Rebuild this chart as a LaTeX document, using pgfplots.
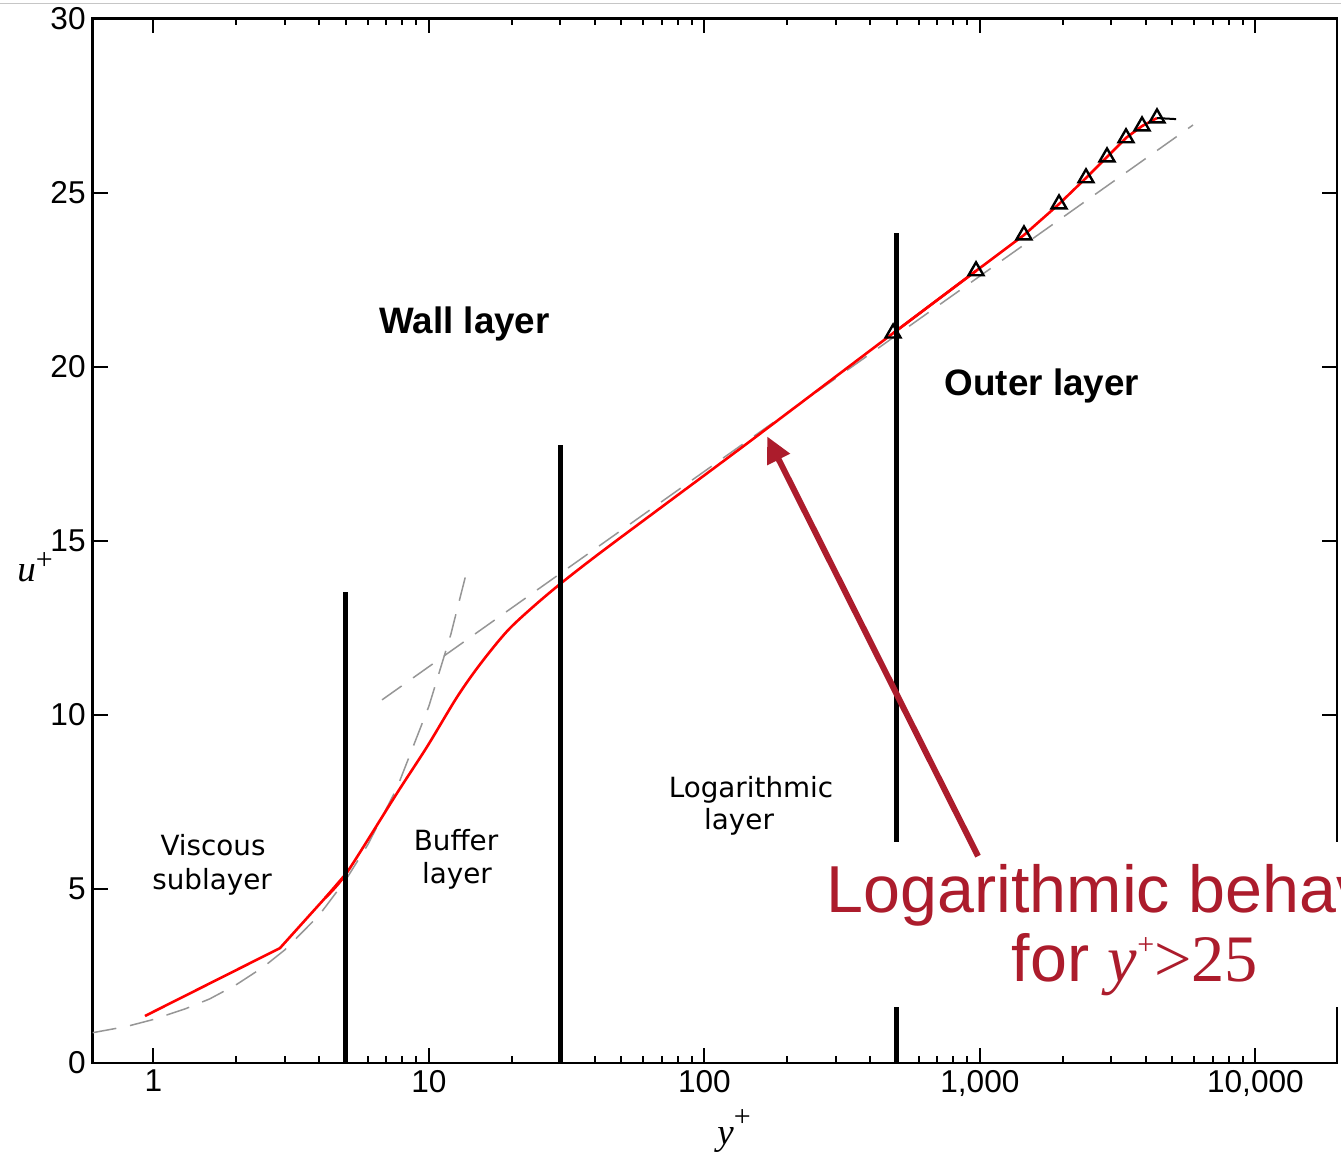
\documentclass[border=0pt]{standalone}
\usepackage{fontspec}
\usepackage{pgfplots}
\pgfplotsset{compat=1.18}
\usetikzlibrary{arrows.meta}
\setmainfont{Liberation Sans}
\newfontfamily\dejavu{DejaVu Sans}
\newfontfamily\serif{Liberation Serif}
\definecolor{annot}{RGB}{172,28,44}
\definecolor{dashgray}{RGB}{150,150,150}
\begin{document}
\begin{tikzpicture}
\begin{axis}[
  xmode=log, scale only axis, width=622.15pt, height=522.25pt,
  xmin=0.602, xmax=19780, ymin=0, ymax=30,
  xtick={1,10,100,1000,10000}, xticklabels={1,10,100,{1,000},{10,000}},
  ytick={0,5,...,30},
  tick align=inside,
  major tick length=7.5pt, minor tick length=3.5pt,
  tick style={line width=1pt, black},
  axis line style={line width=1.4pt},
  ticklabel style={font=\fontsize{15.8}{18}\selectfont},
  /pgf/number format/assume math mode=true,
  clip=false,
]
% viscous sublayer reference (dashed)
\addplot[dashgray, line width=0.75pt, dash pattern=on 12pt off 7pt] coordinates {
 (0.602,0.87)(0.8,1.05)(1,1.25)(1.3,1.55)(1.6,1.84)(2,2.25)(2.5,2.75)(3,3.25)
 (4,4.25)(5,5.27)(6,6.27)(7.66,7.9)(10,10.25)(12,12.3)(13.9,14.3)};
% log law reference (dashed)
\addplot[dashgray, line width=0.75pt, dash pattern=on 12pt off 7pt] coordinates {
 (6.76,10.43)(5935,26.94)};
% velocity profile
\addplot[red, line width=1.3pt] coordinates {
 (0.932,1.35)(2.88,3.30)(4.2,4.74)(5.02,5.45)};
\addplot[red, line width=1.3pt, smooth, tension=0.5] coordinates {
 (4.2,4.74)(5.02,5.45)(7.66,7.75)(9.84,9.08)(12.65,10.51)
 (15.33,11.45)(19.21,12.4)(23.87,13.1)(30.4,13.8)(41.8,14.65)(70,15.97)
 (150,17.92)(484,20.96)(968,22.75)};
\addplot[red, line width=1.3pt] coordinates {
 (484,20.96)(968,22.75)(1445,23.78)(1937,24.67)(2427,25.42)
 (2893,26.02)(3391,26.57)(3877,26.91)(4393,27.14)};
\addplot[black, line width=1pt] coordinates {(4393,27.14)(5152,27.11)};
\addplot[black, only marks, mark=triangle, mark size=4.3pt, mark options={line width=1.2pt, fill=none}] coordinates {
 (484,20.96)(968,22.75)(1445,23.78)(1937,24.67)(2427,25.42)
 (2893,26.02)(3391,26.57)(3877,26.91)(4393,27.14)};
% region boundaries
\addplot[black, line width=2.5pt] coordinates {(5,0)(5,13.53)};
\addplot[black, line width=2.5pt] coordinates {(30,0)(30,17.75)};
\addplot[black, line width=2.5pt] coordinates {(500,0)(500,23.84)};
% region labels
\node[anchor=base, inner sep=0, font=\dejavu\fontsize{13.9}{16}\selectfont] at (axis cs:1.646,5.945) {Viscous};
\node[anchor=base, inner sep=0, font=\dejavu\fontsize{13.9}{16}\selectfont] at (axis cs:1.632,4.997) {sublayer};
\node[anchor=base, inner sep=0, font=\dejavu\fontsize{13.9}{16}\selectfont] at (axis cs:12.54,6.117) {Buffer};
\node[anchor=base, inner sep=0, font=\dejavu\fontsize{13.9}{16}\selectfont] at (axis cs:12.65,5.169) {layer};
\node[anchor=base, inner sep=0, font=\dejavu\fontsize{13.9}{16}\selectfont] at (axis cs:147.6,7.639) {Logarithmic};
\node[anchor=base, inner sep=0, font=\dejavu\fontsize{13.9}{16}\selectfont] at (axis cs:133.6,6.692) {layer};
\node[anchor=base, inner sep=0, font=\bfseries\fontsize{18.4}{20}\selectfont] at (axis cs:13.47,20.965) {Wall layer};
\node[anchor=base, inner sep=0, font=\bfseries\fontsize{18.4}{20}\selectfont] at (axis cs:1680,19.18) {Outer layer};
% axis labels
\node[anchor=base west, inner sep=0] at (axis description cs:-0.0608,0.4605)
  {\serif\fontsize{18.5}{20}\selectfont\itshape u\upshape\raisebox{6.1pt}{\fontsize{15}{15}\selectfont +}};
\node[anchor=base west, inner sep=0] at (axis description cs:0.5017,-0.0785)
  {\serif\fontsize{18.5}{20}\selectfont\itshape y\upshape\raisebox{9pt}{\fontsize{15}{15}\selectfont +}};
% saved coordinates
\coordinate (SW) at (rel axis cs:0,0);
\coordinate (TL) at (rel axis cs:0,1);
\coordinate (boxBL) at (axis cs:252,1.608);
\coordinate (boxTR) at (axis cs:30000,6.347);
\coordinate (L1) at (axis cs:3656,4.308);
\coordinate (L2) at (axis cs:3656,2.326);
\coordinate (arrTail) at (axis cs:984.5,5.94);
\coordinate (arrTip) at (axis cs:168.8,18.0);
\end{axis}
\fill[white] (boxBL) rectangle (boxTR);
\draw[annot, line width=3pt, -{Triangle[length=13pt,width=12pt]}] (arrTail) -- (arrTip);
\node[anchor=base, inner sep=0, text=annot, font=\fontsize{33.2}{36}\selectfont] at (L1) {Logarithmic behavior};
\node[anchor=base, inner sep=0, text=annot] at (L2)
  {\fontsize{33.2}{36}\selectfont for {\serif\itshape y}\raisebox{14pt}{\serif\fontsize{15}{15}\selectfont +}{\serif >25}};
\draw[gray!45, line width=0.7pt] ([shift={(-46.35pt,7.6pt)}]TL) -- ++(670.5pt,0);
\pgfresetboundingbox
\path ([shift={(-46.35pt,-45.5pt)}]SW) rectangle ++(670.5pt,577pt);
\end{tikzpicture}
\end{document}
